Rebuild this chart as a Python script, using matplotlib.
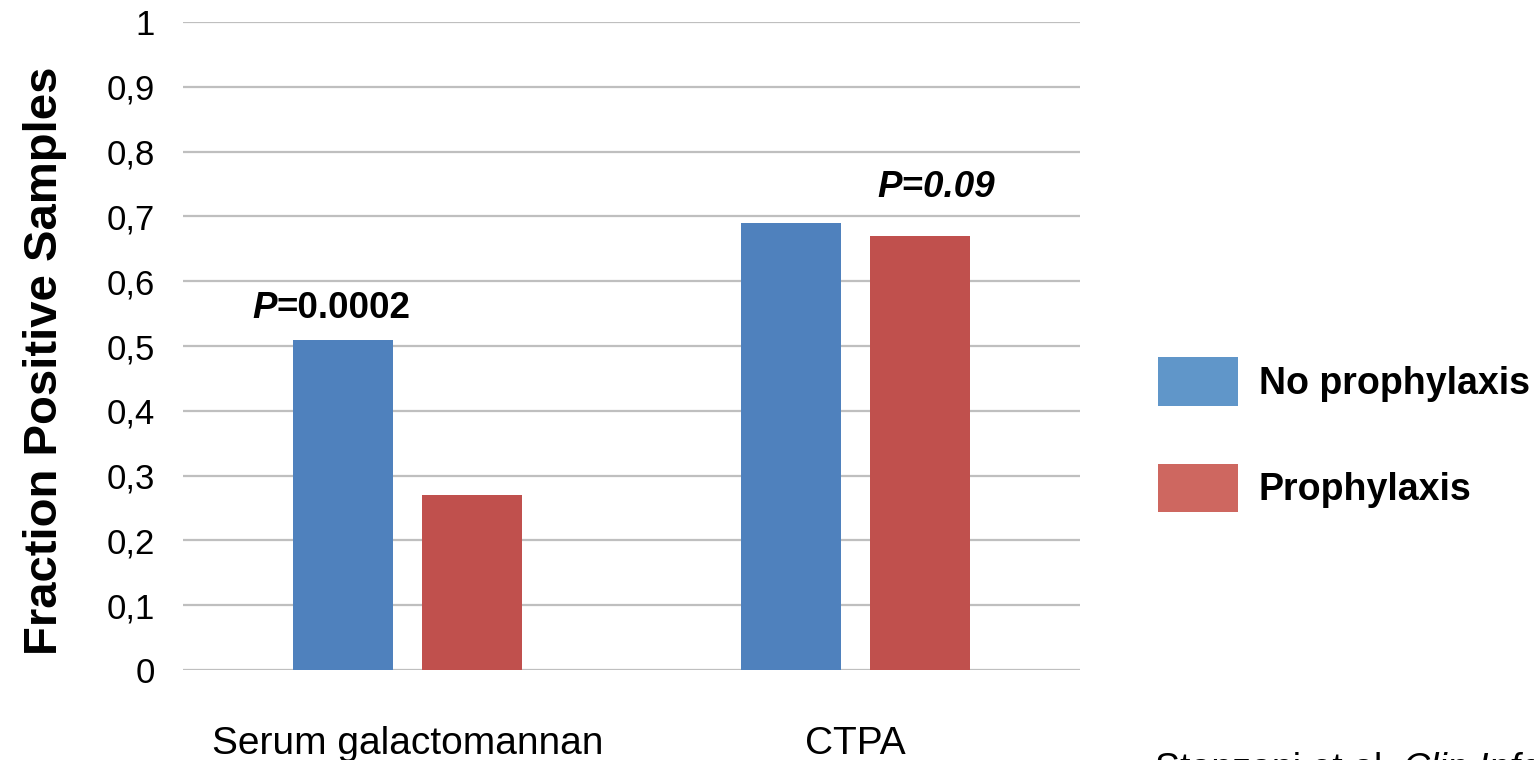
import matplotlib
matplotlib.use("Agg")
import matplotlib.pyplot as plt
import matplotlib.ticker as mtick
from matplotlib.patches import Patch
import numpy as np

plt.rcParams['font.family'] = ['Liberation Sans', 'DejaVu Sans']

categories = ["Serum galactomannan", "CTPA"]
no_prophylaxis = [0.51, 0.69]
prophylaxis = [0.27, 0.67]
series_names = ["No prophylaxis", "Prophylaxis"]

bar_blue = "#4F81BD"
bar_red = "#C0504D"
leg_blue = "#6096C9"
leg_red = "#CE6760"

fig = plt.figure(figsize=(15.34, 7.6), dpi=100)
ax = fig.add_axes([0.1193, 0.1184, 0.5847, 0.8526])

x = np.arange(len(categories))
w = 0.223
off = 0.144
ax.bar(x - off, no_prophylaxis, w, color=bar_blue, zorder=3)
ax.bar(x + off, prophylaxis, w, color=bar_red, zorder=3)

ax.set_xlim(-0.5, 1.5)
ax.set_ylim(0, 1)
ax.yaxis.set_major_locator(mtick.MultipleLocator(0.1))
ax.yaxis.set_major_formatter(mtick.FuncFormatter(
    lambda v, pos: "0" if abs(v) < 1e-9 else ("1" if abs(v - 1) < 1e-9 else ("%.1f" % v).replace(".", ","))))
ax.grid(axis="y", color="#BFBFBF", linewidth=1.6, zorder=0)
for s in ax.spines.values():
    s.set_visible(False)
ax.tick_params(axis="both", length=0)
ax.tick_params(axis="y", labelsize=25, pad=20)
ax.tick_params(axis="x", labelsize=28, pad=40)
ax.set_xticks(x)
ax.set_xticklabels(categories)
ax.set_ylabel("Fraction Positive Samples", fontsize=34, fontweight="bold", labelpad=29)
ax.yaxis.label.set_y(0.478)

# p-value labels: italic P, rest bold (second one fully italic)
t1 = ax.annotate("P", xy=(0 - off, no_prophylaxis[0]), xytext=(-65, 10),
                 textcoords="offset points", fontsize=26.5, fontweight="bold",
                 fontstyle="italic", va="bottom", ha="left")
ax.annotate("=0.0002", xy=(1, 0), xycoords=t1, fontsize=26.5,
            fontweight="bold", va="bottom", ha="left")
ax.text(1 + 0.18, 0.745, "P=0.09", fontsize=26.5, fontweight="bold",
        fontstyle="italic", ha="center", va="center")

handles = [Patch(facecolor=leg_blue, edgecolor="none", label=series_names[0]),
           Patch(facecolor=leg_red, edgecolor="none", label=series_names[1])]
fig.legend(handles=handles, loc="center left", bbox_to_anchor=(0.755, 0.428),
           frameon=False, prop={"size": 27, "weight": "bold"},
           handlelength=2.13, handleheight=1.6, labelspacing=1.55,
           handletextpad=0.55, borderaxespad=0, borderpad=0)

# source line, cut off at the bottom-right edge as in the original slide
c1 = fig.text(1155 / 1534, 0.011, "Stanzani et al. ", fontsize=27, va="top", ha="left")
fig.canvas.draw()
bb = c1.get_window_extent()
fig.text(bb.x1 / fig.bbox.width, 0.011, "Clin Infect Dis", fontsize=27,
         fontstyle="italic", va="top", ha="left")

fig.savefig("out.png", dpi=100)
